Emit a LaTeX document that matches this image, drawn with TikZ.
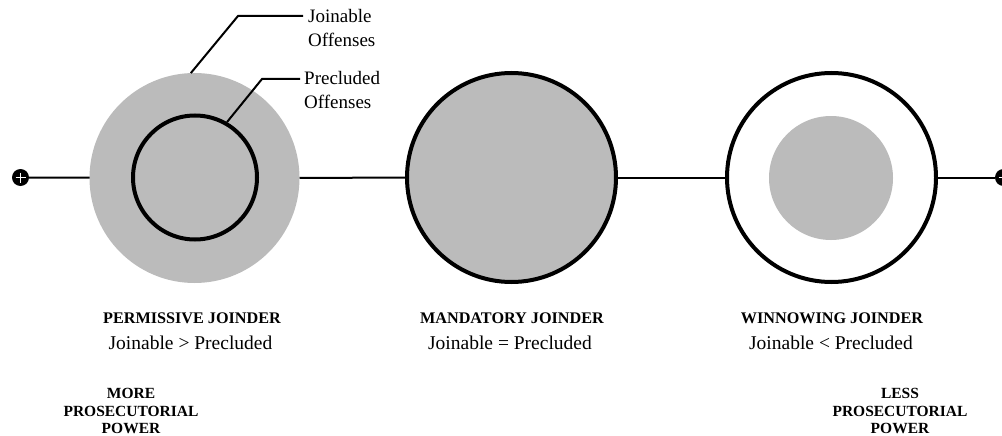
\documentclass[tikz,border=0pt]{standalone}
\usepackage{fontspec}
\setmainfont{Liberation Serif}
\begin{document}
\definecolor{discgray}{RGB}{187,187,187}
\begin{tikzpicture}[x=1pt,y=-1pt,
  axis/.style={line width=2pt},
  ring/.style={circle,draw,line width=4pt,inner sep=0pt},
  disc/.style={circle,fill=discgray,inner sep=0pt,outer sep=0pt},
  endpoint/.style={circle,fill=black,minimum size=17pt,inner sep=0pt},
  leader/.style={line width=2pt},
  callout/.style={align=left,anchor=west,inner sep=0pt,font=\fontsize{19}{23.5}\selectfont},
  kind/.style={inner sep=0pt,font=\bfseries\fontsize{16.2}{17}\selectfont},
  relation/.style={inner sep=0pt,font=\fontsize{19.5}{23}\selectfont},
  power/.style={align=center,inner sep=0pt,font=\bfseries\fontsize{15.5}{17.5}\selectfont}]
\useasboundingbox (0,0) rectangle (1002,436);

% end markers of the scale
\node[endpoint] (pl) at (20.5,177.5) {};
\node[endpoint] (pr) at (1003.5,177.5) {};
\foreach \p in {pl,pr}
  \draw[white,line width=1.8pt] (\p.center) +(-5,0) -- +(5,0)
                                (\p.center) +(0,-5) -- +(0,5);

% permissive joinder
\node[disc,minimum size=210pt] (c1o) at (194.5,178) {};
\node[ring,minimum size=124pt] (c1i) at (195,177.5) {};
% mandatory joinder
\node[ring,fill=discgray,minimum size=209pt] (c2) at (511.5,177.5) {};
% winnowing joinder
\node[ring,fill=white,minimum size=209pt] (c3) at (831.5,177.5) {};
\node[disc,minimum size=124pt] (c3i) at (831,178) {};

% the scale line
\draw[axis] (pl) -- (c1o);
\draw[axis] (c1o) -- (c2);
\draw[axis] (c2) -- (c3);
\draw[axis] (c3) -- (pr);

% callouts
\node[callout] (tj) at (308,28) {Joinable\\Offenses};
\node[callout] (tp) at (304,90) {Precluded\\Offenses};
\coordinate (kj) at (238,16);
\coordinate (ej) at (303,16);
\coordinate (kp) at (262,79);
\coordinate (ep) at (300,79);
\draw[leader] (c1o.92) -- (kj) -- (ej);
\draw[leader] (c1i.60) -- (kp) -- (ep);

% captions
\node[kind] (k1) at (192,318) {PERMISSIVE JOINDER};
\node[relation] (r1) at (190.5,343) {Joinable > Precluded};
\node[kind] (k2) at (512,318) {MANDATORY JOINDER};
\node[relation] (r2) at (510,343) {Joinable = Precluded};
\node[kind] (k3) at (832,318) {WINNOWING JOINDER};
\node[relation] (r3) at (831,343) {Joinable < Precluded};

\node[power] (more) at (131,411) {MORE\\PROSECUTORIAL\\POWER};
\node[power] (less) at (900,411) {LESS\\PROSECUTORIAL\\POWER};
\end{tikzpicture}
\end{document}
